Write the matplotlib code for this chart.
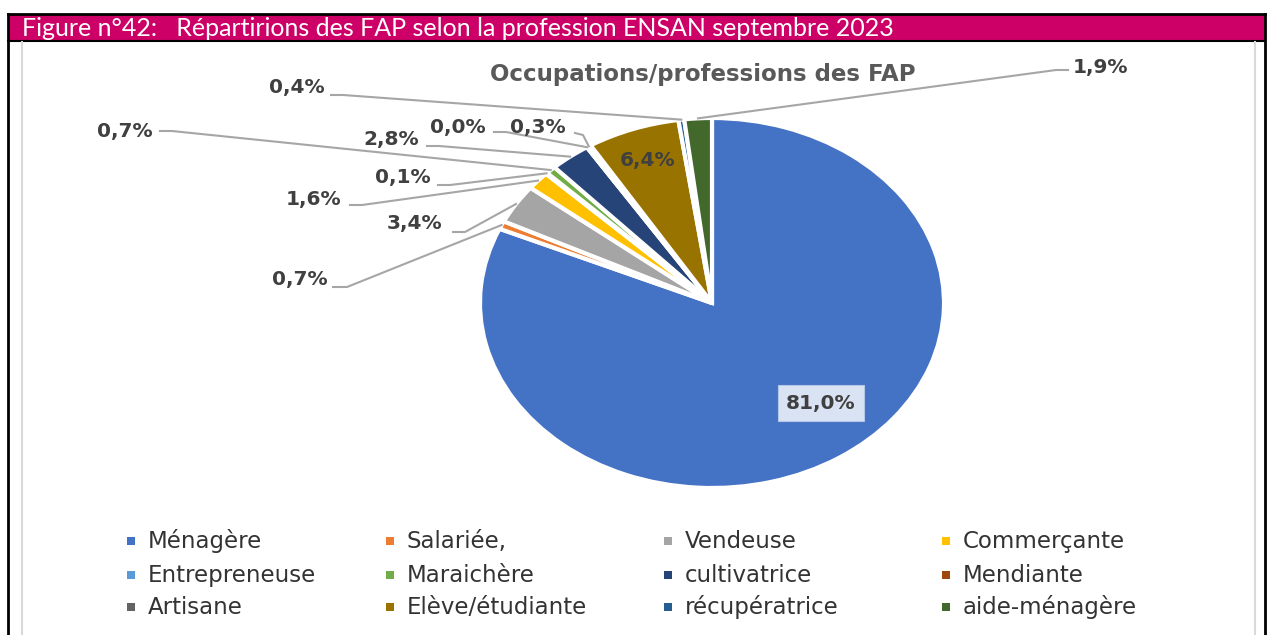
import numpy as np
from matplotlib import pyplot as plt

# FAP occupations, ENSAN september 2023 (percent)
categories = ['Ménagère', 'Salariée,', 'Vendeuse', 'Commerçante',
              'Entrepreneuse', 'Maraichère', 'cultivatrice', 'Mendiante',
              'Artisane', 'Elève/étudiante', 'récupératrice', 'aide-ménagère']
shares = [81.0, 0.7, 3.4, 1.6, 0.1, 0.7, 2.8, 0.0, 0.3, 6.4, 0.4, 1.9]
colors = ['#4472C4', '#ED7D31', '#A5A5A5', '#FFC000', '#5B9BD5', '#70AD47',
          '#264478', '#9E480E', '#636363', '#997300', '#255E91', '#43682B']

W, H = 1270, 635
fig = plt.figure(figsize=(W / 100, H / 100), dpi=100)

# background: frame + header bar (pixel coordinates)
bg = fig.add_axes([0, 0, 1, 1], zorder=0)
bg.set_xlim(0, W)
bg.set_ylim(H, 0)
bg.axis('off')
bg.add_patch(plt.Rectangle((8, 14), 1257, 27, facecolor='#CC0066', edgecolor='none'))
bg.plot([8, 1265], [14, 14], color='black', lw=2)
bg.plot([8, 1265], [41, 41], color='black', lw=1.5)
bg.plot([8, 8], [14, 635], color='black', lw=2)
bg.plot([1265, 1265], [14, 635], color='black', lw=2)
bg.plot([22, 22], [42, 635], color='#d9d9d9', lw=1.5)
bg.plot([1255, 1255], [42, 635], color='#d9d9d9', lw=1.5)
bg.text(22, 28, 'Figure n°42:   Répartirions des FAP selon la profession ENSAN septembre 2023',
        color='white', fontsize=18, family='Lato', va='center', ha='left')

# pie, stretched horizontally like the exported chart
pax = fig.add_axes([480 / W, 147 / H, 464 / W, 370 / H], zorder=1)
wedges, _ = pax.pie(shares, colors=colors, startangle=90, counterclock=False,
                    wedgeprops=dict(edgecolor='white', linewidth=3))
pax.set_xlim(-1, 1)
pax.set_ylim(-1, 1)
pax.set_aspect('auto')

# labels + leader lines on top
top = fig.add_axes([0, 0, 1, 1], zorder=2)
top.set_xlim(0, W)
top.set_ylim(H, 0)
top.axis('off')
top.patch.set_alpha(0)


def to_px(r, ang):
    a = np.deg2rad(ang)
    d = pax.transData.transform((r * np.cos(a), r * np.sin(a)))
    return top.transData.inverted().transform(d)


def fmt(v):
    return f'{v:.1f}%'.replace('.', ',')


lab = dict(fontsize=14.5, fontweight='bold', color='#404040', ha='center', va='center')
top.text(703, 75, 'Occupations/professions des FAP', fontsize=16.5, fontweight='bold',
         color='#595959', ha='center', va='center')

# text centre, line start, knee for each outside label
outside = {
    1: ((300, 279), (333, 287), (347, 287)),
    2: ((415, 223), (453, 232), (465, 232)),
    3: ((314, 199), (350, 205), (362, 205)),
    4: ((403, 178), (438, 185), (450, 185)),
    5: ((125, 131), (160, 131), (172, 131)),
    6: ((391, 140), (427, 146), (439, 146)),
    7: ((458, 127), (494, 132), (506, 132)),
    8: ((538, 127), (575, 133), (583, 135)),
    10: ((297, 88), (331, 95), (343, 95)),
    11: ((1100, 67), (1068, 70), (1056, 70)),
}
for i, w in enumerate(wedges):
    mid = (w.theta1 + w.theta2) / 2
    if i in outside:
        (tx, ty), p0, p1 = outside[i]
        px, py = to_px(1.0, mid)
        top.plot([p0[0], p1[0], px], [p0[1], p1[1], py], color='#a6a6a6', lw=1.5)
        top.text(tx, ty, fmt(shares[i]), **lab)

e = wedges[9]
x, y = to_px(0.82, (e.theta1 + e.theta2) / 2)
top.text(x, y, fmt(shares[9]), **lab)
top.text(821, 403, fmt(shares[0]), **lab,
         bbox=dict(boxstyle='square,pad=0.4', facecolor='#DAE3F3', edgecolor='#b4c7e7', lw=0.8))

# legend, 4 columns x 3 rows
col_x = [131, 390, 668, 946]
row_y = [541, 575, 607]
for k, (name, c) in enumerate(zip(categories, colors)):
    cx, cy = col_x[k % 4], row_y[k // 4]
    top.add_patch(plt.Rectangle((cx - 4, cy - 4), 8, 8, facecolor=c, edgecolor='none'))
    top.text(cx + 17, cy + 7, name, fontsize=16.5, color='#333333', ha='left', va='baseline')

fig.savefig('out.png', dpi=100, facecolor='white')
